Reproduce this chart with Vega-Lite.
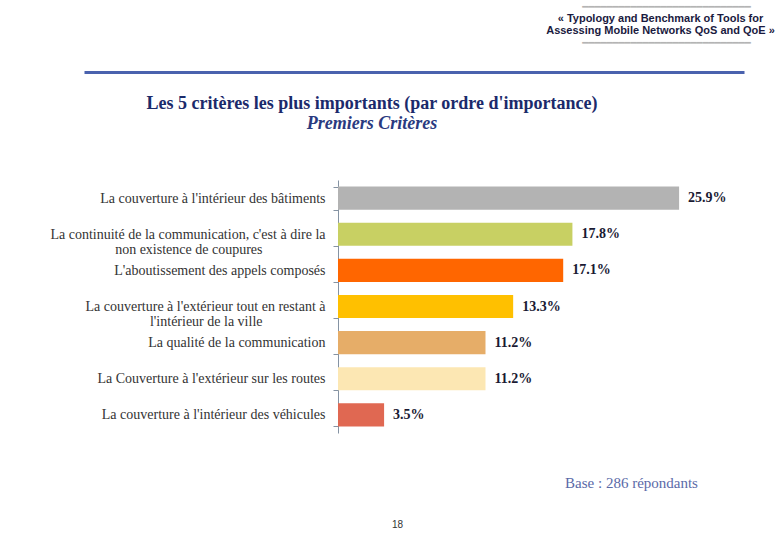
{
  "$schema": "https://vega.github.io/schema/vega-lite/v6.json",
  "width": 660,
  "height": 253,
  "autosize": {"type": "none"},
  "padding": {"left": 84, "top": 180, "right": 36, "bottom": 107},
  "background": "white",
  "config": {"view": {"stroke": null}},
  "title": {
    "text": "Les 5 critères les plus importants (par ordre d'importance)",
    "subtitle": "Premiers Critères",
    "font": "Liberation Serif",
    "fontSize": 18,
    "fontWeight": "bold",
    "color": "#1b2a6b",
    "subtitleFont": "Liberation Serif",
    "subtitleFontSize": 18,
    "subtitleFontWeight": "bold",
    "subtitleFontStyle": "italic",
    "subtitleColor": "#2a3a80",
    "subtitlePadding": 2,
    "anchor": "middle",
    "dx": -42,
    "dy": 136
  },
  "data": {
    "values": [
      {"critere": "La couverture à l'intérieur des bâtiments", "value": 0.259},
      {"critere": "La continuité de la communication, c'est à dire la|non existence de coupures", "value": 0.178},
      {"critere": "L'aboutissement des appels composés", "value": 0.171},
      {"critere": "La couverture à l'extérieur tout en restant à|l'intérieur de la ville", "value": 0.133},
      {"critere": "La qualité de la communication", "value": 0.112},
      {"critere": "La Couverture à l'extérieur sur les routes", "value": 0.112},
      {"critere": "La couverture à l'intérieur des véhicules", "value": 0.035}
    ]
  },
  "layer": [
    {
      "mark": {"type": "bar"},
      "encoding": {
        "y": {
          "field": "critere",
          "type": "nominal",
          "sort": null,
          "scale": {"paddingInner": 0.36, "paddingOuter": 0.18},
          "axis": {
            "offset": -254,
            "grid": false,
            "domainColor": "#8593a3",
            "tickColor": "#8593a3",
            "tickSize": 5,
            "tickBand": "extent",
            "labelExpr": "indexof(datum.label, '|') >= 0 ? [split(datum.label, '|')[0], split(datum.label, '|')[1] + '\u00a0\u00a0\u00a0\u00a0\u00a0\u00a0\u00a0\u00a0\u00a0\u00a0\u00a0\u00a0\u00a0\u00a0\u00a0\u00a0\u00a0\u00a0\u200b'] : datum.label",
            "labelFont": "Liberation Serif",
            "labelFontSize": 14,
            "labelColor": "#333333",
            "labelLimit": 400,
            "labelLineHeight": 15,
            "labelPadding": 8,
            "title": "Base : 286 répondants",
            "titleAngle": 0,
            "titleX": 293,
            "titleY": 307,
            "titleAlign": "center",
            "titleBaseline": "alphabetic",
            "titleFont": "Liberation Serif",
            "titleFontSize": 15,
            "titleFontWeight": "normal",
            "titleColor": "#5b6aa8"
          }
        },
        "x": {
          "field": "value",
          "type": "quantitative",
          "scale": {"domain": [-0.19286, 0.30828], "nice": false, "zero": false},
          "axis": {
            "orient": "top",
            "offset": 108,
            "domainColor": "#4a62ae",
            "domainWidth": 3,
            "labels": false,
            "ticks": false,
            "grid": false,
            "title": ["« Typology and Benchmark of Tools for", "Assessing Mobile Networks QoS and QoE »"],
            "titleFont": "Liberation Sans",
            "titleFontSize": 11,
            "titleFontWeight": "bold",
            "titleColor": "#1a1a40",
            "titleX": 576,
            "titleY": -51,
            "titleAlign": "center",
            "titleBaseline": "alphabetic",
            "titleLineHeight": 12
          }
        },
        "x2": {"datum": 0},
        "color": {
          "field": "critere",
          "type": "nominal",
          "legend": null,
          "scale": {
            "domain": [
              "La couverture à l'intérieur des bâtiments",
              "La continuité de la communication, c'est à dire la|non existence de coupures",
              "L'aboutissement des appels composés",
              "La couverture à l'extérieur tout en restant à|l'intérieur de la ville",
              "La qualité de la communication",
              "La Couverture à l'extérieur sur les routes",
              "La couverture à l'intérieur des véhicules"
            ],
            "range": ["#b3b3b3", "#c8d063", "#ff6600", "#ffc000", "#e6ad68", "#fce7b3", "#e06852"]
          }
        }
      }
    },
    {
      "mark": {"type": "text", "align": "left", "baseline": "middle", "dx": 9, "font": "Liberation Serif", "fontSize": 14, "fontWeight": "bold", "color": "#1a1a33"},
      "encoding": {
        "y": {
          "field": "critere",
          "type": "nominal",
          "sort": null,
          "scale": {"paddingInner": 0.36, "paddingOuter": 0.18},
          "axis": {
            "orient": "right",
            "domain": false,
            "labels": false,
            "ticks": false,
            "grid": false,
            "title": ["━━━━━━━━━━━━━━━━━━━━━━━━━━━━", "━━━━━━━━━━━━━━━━━━━━━━━━━━━━"],
            "titleAngle": 0,
            "titleX": -78,
            "titleY": -171,
            "titleAlign": "center",
            "titleBaseline": "alphabetic",
            "titleFont": "DejaVu Sans",
            "titleFontSize": 10,
            "titleFontWeight": "normal",
            "titleColor": "#b4b4b4",
            "titleLineHeight": 36
          }
        },
        "x": {
          "field": "value",
          "type": "quantitative",
          "scale": {"domain": [-0.19286, 0.30828], "nice": false, "zero": false},
          "axis": {
            "orient": "bottom",
            "domain": false,
            "labels": false,
            "ticks": false,
            "grid": false,
            "title": "18",
            "titleFont": "Liberation Sans",
            "titleFontSize": 10,
            "titleFontWeight": "normal",
            "titleColor": "#333333",
            "titleX": 313,
            "titleY": 94,
            "titleAlign": "center",
            "titleBaseline": "alphabetic"
          }
        },
        "text": {"field": "value", "type": "quantitative", "format": ".1%"}
      }
    }
  ],
  "resolve": {"axis": {"x": "independent", "y": "independent"}}
}
